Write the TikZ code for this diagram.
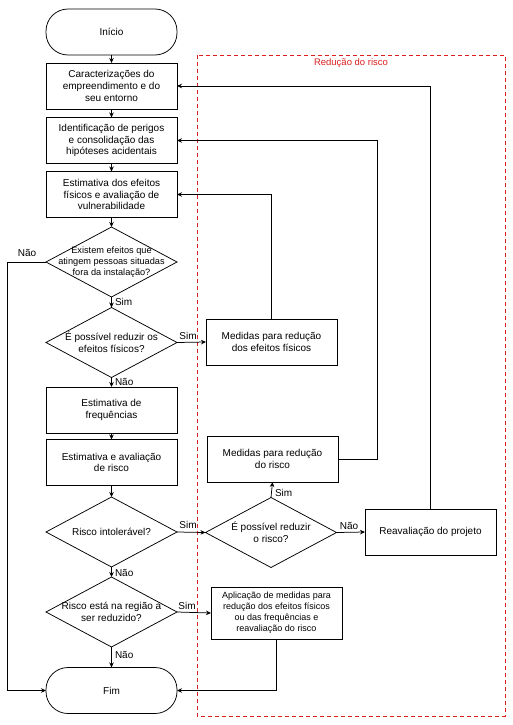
\documentclass[tikz,border=0pt]{standalone}
\usepackage{fontspec}
\setmainfont{Liberation Sans}
\usetikzlibrary{arrows.meta,shapes.geometric}
\definecolor{redbox}{RGB}{220,30,30}
\begin{document}
\begin{tikzpicture}[x=1pt,y=-1pt,
  every node/.style={inner sep=0pt, outer sep=0pt},
  box/.style={draw=black, line width=0.75pt, fill=white, minimum width=131pt, minimum height=46pt, align=center, font=\fontsize{10}{11.6}\selectfont},
  term/.style={box, rounded corners=22pt},
  dia/.style={draw=black, line width=0.75pt, fill=white, diamond, minimum width=131pt, minimum height=70pt},
  dtext/.style={align=center, font=\fontsize{10}{11.6}\selectfont},
  lbl/.style={font=\fontsize{10}{12}\selectfont},
  conn/.style={draw=black, line width=0.75pt, -{Stealth[length=5pt,width=4.5pt]}},
  line/.style={draw=black, line width=0.75pt}
]
\useasboundingbox (0,0) rectangle (513,725);
% red dashed region
\draw[redbox, line width=0.75pt, dash pattern=on 4pt off 3pt] (197,55) rectangle (505,716);
\node[text=redbox, font=\fontsize{9.5}{11}\selectfont] (title) at (351,63) {Redução do risco};

% main column
\node[term] (start) at (111.5,32) {Início};
\node[box] (b1) at (111.5,86) {Caracterizações do\\empreendimento e do\\seu entorno};
\node[box] (b2) at (111.5,140.5) {Identificação de perigos\\e consolidação das\\hipóteses acidentais};
\node[box] (b3) at (111.5,194.5) {Estimativa dos efeitos\\físicos e avaliação de\\vulnerabilidade};
\node[dia] (d1) at (111.5,262) {};
\node[dtext, font=\fontsize{9.2}{11}\selectfont] (d1t) at (111.5,262) {Existem efeitos que\\atingem pessoas situadas\\fora da instalação?};
\node[dia] (d2) at (111.5,342.5) {};
\node[dtext] (d2t) at (111.5,342.5) {É possível reduzir os\\efeitos físicos?};
\node[box] (b4) at (111.5,410) {Estimativa de\\frequências};
\node[box] (b5) at (111.5,462.5) {Estimativa e avaliação\\de risco};
\node[dia] (d3) at (111.5,532) {};
\node[dtext] (d3t) at (111.5,532) {Risco intolerável?};
\node[dia] (d4) at (111.5,612) {};
\node[dtext] (d4t) at (111.5,612) {Risco está na região a\\ser reduzido?};
\node[term] (fim) at (111.5,690.5) {Fim};

% right side
\node[box] (m1) at (271.5,342) {Medidas para redução\\dos efeitos físicos};
\node[box] (m2) at (272.5,459) {Medidas para redução\\do risco};
\node[dia] (d5) at (271,532.5) {};
\node[dtext] (d5t) at (271,532.5) {É possível reduzir\\o risco?};
\node[box] (rv) at (430.5,532) {Reavaliação do projeto};
\node[box, minimum height=52pt, font=\fontsize{9}{11}\selectfont] (ap) at (276.5,613) {Aplicação de medidas para\\redução dos efeitos físicos\\ou das frequências e\\reavaliação do risco};

\coordinate (cL1) at (7,262);
\coordinate (cL2) at (7,690.5);
\coordinate (cM1) at (271.5,194.5);
\coordinate (cM2a) at (377.5,459);
\coordinate (cM2b) at (377.5,140.5);
\coordinate (cRV) at (430.5,86);
\coordinate (cAP) at (276.5,690.5);

% main flow
\draw[conn] (start) -- (b1);
\draw[conn] (b1) -- (b2);
\draw[conn] (b2) -- (b3);
\draw[conn] (b3) -- (d1);
\draw[conn] (d1) -- (d2);
\draw[conn] (d2) -- (b4);
\draw[conn] (b4) -- (b5);
\draw[conn] (b5) -- (d3);
\draw[conn] (d3) -- (d4);
\draw[conn] (d4) -- (fim);
\draw[conn] (d1.west) -- (cL1) -- (cL2) -- (fim.west);

% branches
\draw[conn] (d2.east) -- (m1.west);
\draw[conn] (m1.north) -- (cM1) -- (b3.east);
\draw[conn] (d3.east) -- (d5.west);
\draw[conn] (d5.north) -- (m2.south);
\draw[conn] (m2.east) -- (cM2a) -- (cM2b) -- (b2.east);
\draw[conn] (d5.east) -- (rv.west);
\draw[conn] (rv.north) -- (cRV) -- (b1.east);
\draw[conn] (d4.east) -- (ap.west);
\draw[conn] (ap.south) -- (cAP) -- (fim.east);

% labels
\node[lbl] (lNao1) at (27,253) {Não};
\node[lbl, anchor=west] (lSim1) at (115,302) {Sim};
\node[lbl, anchor=west] (lNao2) at (115,382) {Não};
\node[lbl] (lSim2) at (188,336) {Sim};
\node[lbl] (lSim3) at (188,525) {Sim};
\node[lbl, anchor=west] (lNao3) at (115,573) {Não};
\node[lbl, anchor=west] (lNao4) at (115,655) {Não};
\node[lbl] (lSim4) at (187,606) {Sim};
\node[lbl, anchor=west] (lSim5) at (275,493) {Sim};
\node[lbl] (lNao5) at (349,526) {Não};
\end{tikzpicture}
\end{document}
